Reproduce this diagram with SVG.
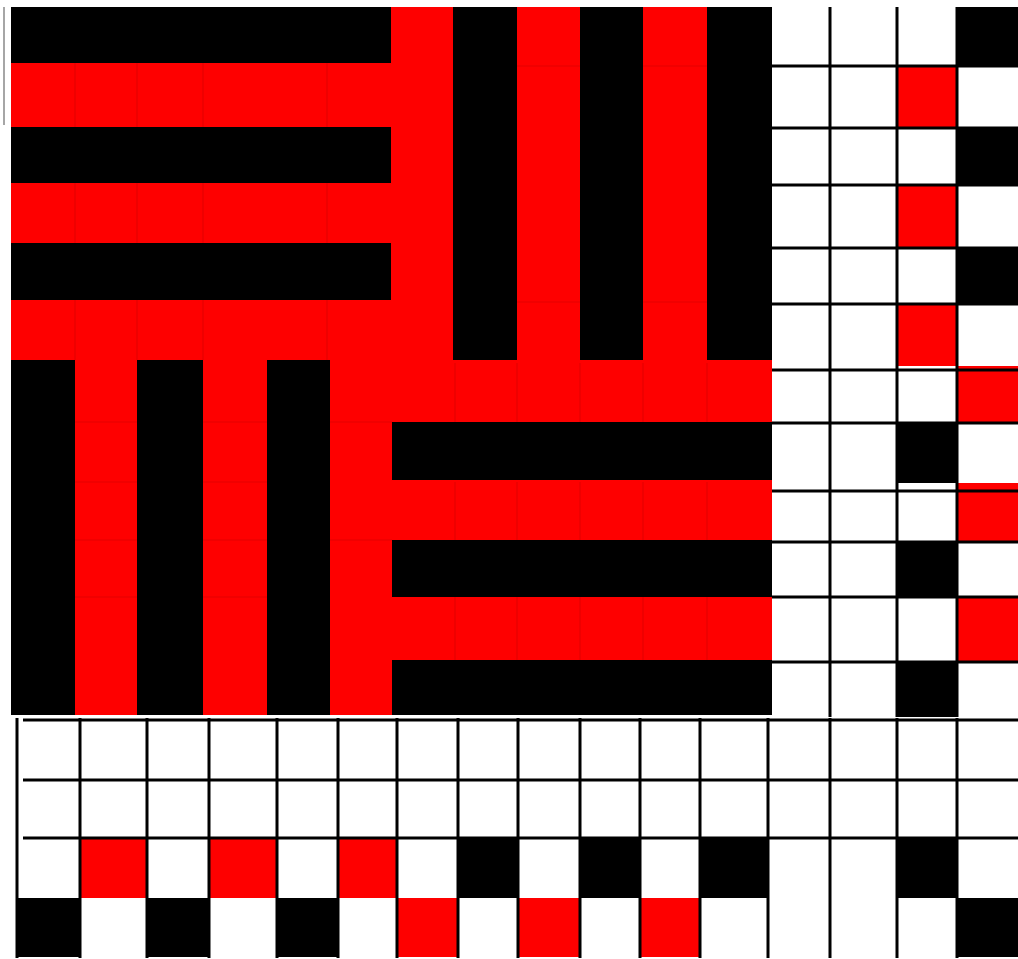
<svg xmlns="http://www.w3.org/2000/svg" width="1018" height="959" viewBox="0 0 1018 959">
  <style>
    .red { fill: #fe0000; }
    .blk { fill: #000000; }
    .wht { fill: #ffffff; }
    .faint { stroke: #e40000; stroke-width: 1.2; fill: none; }
    .grid { stroke: #000000; stroke-width: 3; fill: none; }
  </style>
  <rect x="0" y="0" width="1018" height="959" class="wht"/>
  <line x1="4" y1="7" x2="4" y2="125" stroke="#888888" stroke-width="1.5"/>

  <g id="weave">
    <rect x="11" y="7" width="761" height="708" class="red"/>
    <!-- faint cell borders in red areas -->
    <g class="faint">
      <path d="M75 63V127M137 63V127M203 63V127M327 63V127M75 183V243M137 183V243M203 183V243M327 183V243M75 300V360M137 300V360M203 300V360M327 300V360"/>
      <path d="M517 66H580M517 302H580M643 66H707M643 302H707"/>
      <path d="M75 422H137M75 482H137M75 540H137M75 597H137M203 422H267M203 482H267M203 540H267M203 597H267M330 422H392M330 540H392"/>
      <path d="M455 363V422M517 363V422M580 363V422M643 363V422M707 363V422M455 482V540M517 482V540M580 482V540M643 482V540M707 482V540M455 597V660M517 597V660M580 597V660M643 597V660M707 597V660"/>
    </g>
    <!-- top-left horizontal black -->
    <rect x="11" y="7" width="380" height="56" class="blk"/>
    <rect x="11" y="127" width="380" height="56" class="blk"/>
    <rect x="11" y="243" width="380" height="57" class="blk"/>
    <!-- top-right vertical black -->
    <rect x="453" y="7" width="64" height="353" class="blk"/>
    <rect x="580" y="7" width="63" height="353" class="blk"/>
    <rect x="707" y="7" width="65" height="353" class="blk"/>
    <!-- bottom-left vertical black -->
    <rect x="11" y="360" width="64" height="355" class="blk"/>
    <rect x="137" y="360" width="66" height="355" class="blk"/>
    <rect x="267" y="360" width="63" height="355" class="blk"/>
    <!-- bottom-right horizontal black -->
    <rect x="392" y="422" width="380" height="58" class="blk"/>
    <rect x="392" y="540" width="380" height="57" class="blk"/>
    <rect x="392" y="660" width="380" height="55" class="blk"/>
  </g>

  <g id="right-grid">
    <rect x="957" y="7" width="61" height="59" class="blk"/>
    <rect x="897" y="66" width="60" height="62" class="red"/>
    <rect x="957" y="128" width="61" height="57" class="blk"/>
    <rect x="897" y="185" width="60" height="63" class="red"/>
    <rect x="957" y="248" width="61" height="56" class="blk"/>
    <rect x="897" y="304" width="60" height="62" class="red"/>
    <rect x="957" y="366" width="61" height="57" class="red"/>
    <rect x="897" y="423" width="60" height="60" class="blk"/>
    <rect x="957" y="483" width="61" height="59" class="red"/>
    <rect x="897" y="542" width="60" height="55" class="blk"/>
    <rect x="957" y="597" width="61" height="65" class="red"/>
    <rect x="897" y="662" width="60" height="55" class="blk"/>
    <path class="grid" d="M830 7V717M897 7V717M957 7V717M772 66H1018M772 128H1018M772 185H1018M772 248H1018M772 304H1018M772 370H1018M772 423H1018M772 491H1018M772 542H1018M772 597H1018M772 662H1018"/>
  </g>

  <g id="bottom-grid">
    <rect x="80" y="838" width="67" height="60" class="red"/>
    <rect x="209" y="838" width="68" height="60" class="red"/>
    <rect x="338" y="838" width="59" height="60" class="red"/>
    <rect x="458" y="838" width="60" height="60" class="blk"/>
    <rect x="580" y="838" width="60" height="60" class="blk"/>
    <rect x="700" y="838" width="68" height="60" class="blk"/>
    <rect x="897" y="838" width="60" height="60" class="blk"/>
    <rect x="17" y="898" width="63" height="59" class="blk"/>
    <rect x="147" y="898" width="62" height="59" class="blk"/>
    <rect x="277" y="898" width="61" height="59" class="blk"/>
    <rect x="397" y="898" width="61" height="59" class="red"/>
    <rect x="518" y="898" width="62" height="59" class="red"/>
    <rect x="640" y="898" width="60" height="59" class="red"/>
    <rect x="957" y="898" width="61" height="59" class="blk"/>
    <path class="grid" d="M23 720H1018M23 780H1018M23 838H1018M17 718V958M80 718V958M147 718V958M209 718V958M277 718V958M338 718V958M397 718V958M458 718V958M518 718V958M580 718V958M640 718V958M700 718V958M768 718V958M830 718V958M897 718V958M957 718V958"/>
  </g>
</svg>
